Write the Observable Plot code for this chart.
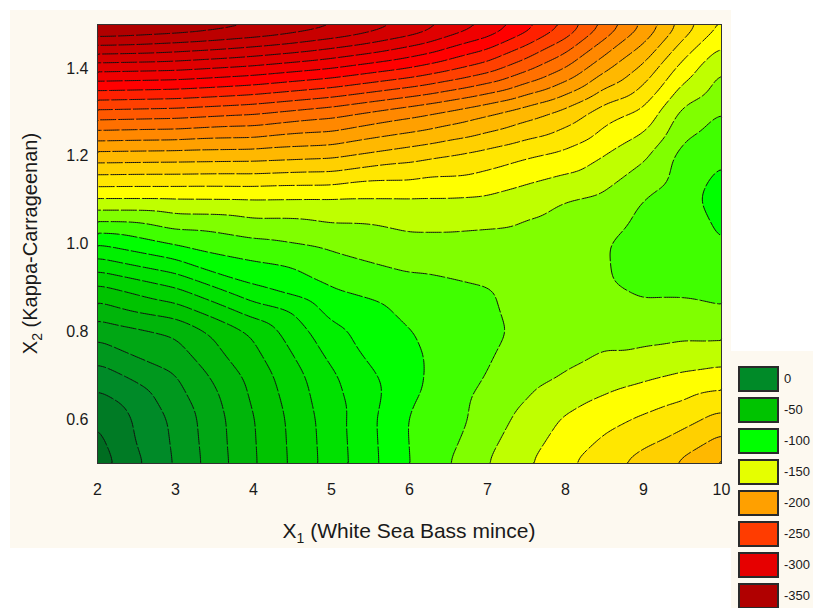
<!DOCTYPE html>
<html>
<head>
<meta charset="utf-8">
<script src="https://cdn.jsdelivr.net/npm/d3@7"></script>
<script src="https://cdn.jsdelivr.net/npm/@observablehq/plot@0.6"></script>
<style>
  html, body { margin: 0; padding: 0; background: #ffffff; }
  #page { position: relative; width: 813px; height: 608px; overflow: hidden; background: #ffffff;
          font-family: "Liberation Sans", Arial, sans-serif; color: #1a1a1a; }
  #panel { position: absolute; left: 10px; top: 10px; width: 721px; height: 538px; background: #fdf9f0; }
  #legend { position: absolute; left: 731px; top: 351px; width: 82px; height: 257px; background: #fdf9f0; }
  .sw { position: absolute; left: 7px; width: 41px; height: 26px; box-sizing: border-box; border: 2px solid #2a2a2a; }
  .lb { position: absolute; left: 53px; font-size: 13px; line-height: 26px; height: 26px; white-space: nowrap; color: #1a1a1a; }
  #chart { position: absolute; left: 0; top: 0; }
</style>
</head>
<body>
<div id="page">
  <div id="panel"></div>
  <div id="chart"></div>
  <div id="legend"></div>
</div>
<script>
// ---- axes ----
const x1Ticks = [2, 3, 4, 5, 6, 7, 8, 9, 10];
const x2Ticks = [0.6, 0.8, 1.0, 1.2, 1.4];

const x1Grid = [2, 3, 4, 5, 6, 6.5, 7, 7.5, 8, 8.5, 9, 9.5, 10];
const x2Grid = [0.5, 0.6, 0.7, 0.8, 0.9, 1.0, 1.1, 1.2, 1.3, 1.4, 1.5];
const zAtX2_05 = [32, -1, -36, -68, -100, -112, -125, -136, -148, -158.5, -168, -178, -192];
const zAtX2_06 = [25, -3, -37, -69, -101, -106, -119, -129, -139, -146, -152, -158, -167];
const zAtX2_07 = [6.5, -12, -42, -73, -97, -105, -113, -120, -125.5, -131, -135, -139, -142];
const zAtX2_08 = [-17, -27, -52, -84, -99.5, -104.5, -110, -115, -120, -121, -120, -121.5, -121];
const zAtX2_09 = [-47, -62, -86, -100, -108, -110, -112, -115, -117, -114, -110, -110, -107];
const zAtX2_10 = [-88, -101, -109, -115, -121, -121, -120, -119, -117, -113.5, -106, -106, -100];
const zAtX2_11 = [-136, -136, -136.5, -136, -136, -136, -135, -130, -125, -122, -112, -104, -95];
const zAtX2_12 = [-182, -181, -180, -177, -167, -162, -157, -151, -146, -137, -127, -108, -101];
const zAtX2_13 = [-234, -232, -227, -218, -205, -198, -190, -181, -171, -156, -147, -122, -112];
const zAtX2_14 = [-292, -290, -284, -275, -262, -253, -243, -228, -212, -190, -172, -145, -125];
const zAtX2_15 = [-355, -350, -342, -330, -313, -300, -288, -270, -250, -224, -200, -172, -149];
const zRows = [zAtX2_05, zAtX2_06, zAtX2_07, zAtX2_08, zAtX2_09, zAtX2_10,
               zAtX2_11, zAtX2_12, zAtX2_13, zAtX2_14, zAtX2_15];

// ---- legend ----
const legendValues = [0, -50, -100, -150, -200, -250, -300, -350];
const legendColors = ["#008a28", "#00c300", "#00ff00", "#e5ff00", "#ffa000", "#ff3c00", "#e60000", "#b00000"];

// ---- fill gradient stops ----
const colorStopValues = [-375, -350, -300, -275, -250, -200, -150, -100, -50, 0, 37.5];
const colorStopColors = ["#8c0000", "#b00000", "#e00000", "#ff0000", "#ff4000", "#ffa000", "#ffff00", "#00ff00", "#00c300", "#008a28", "#005e1e"];
const contourStep = 12.5;
const contourLevels = d3.range(-375, 40, contourStep);

const samples = [];
x2Grid.forEach((x2, i) => x1Grid.forEach((x1, j) => samples.push({x1, x2, z: zRows[i][j]})));

const contourOpts = {x: "x1", y: "x2", interpolate: "barycentric", thresholds: contourLevels, blur: 3};

const chart = Plot.plot({
  width: 813,
  height: 608,
  marginLeft: 97,
  marginRight: 92,
  marginTop: 24,
  marginBottom: 145,
  style: {background: "transparent", fontFamily: "'Liberation Sans', Arial, sans-serif", fontSize: "16px", color: "#1a1a1a"},
  x: {domain: [2, 10], ticks: x1Ticks, tickSize: 0, tickPadding: 20, label: null},
  y: {domain: [0.5, 1.5], ticks: x2Ticks, tickSize: 0, tickPadding: 9, tickFormat: ".1f", label: null},
  color: {type: "linear", domain: colorStopValues, range: colorStopColors},
  marks: [
    Plot.contour(samples, {...contourOpts, fill: "z", stroke: "none"}),
    Plot.contour(samples, {...contourOpts, value: "z", fill: "none", stroke: "#111", strokeWidth: 1, strokeDasharray: "16,2"}),
    Plot.frame({stroke: "#333", strokeWidth: 1})
  ]
});
document.getElementById("chart").appendChild(chart);

// axis titles with subscripts
const svg = d3.select(chart);
const xt = svg.append("text").attr("x", 409).attr("y", 538).attr("text-anchor", "middle")
  .attr("font-size", 21).attr("fill", "#1a1a1a");
xt.append("tspan").text("X");
xt.append("tspan").attr("font-size", 14).attr("dy", 5).text("1");
xt.append("tspan").attr("dy", -5).text(" (White Sea Bass mince)");

const yt = svg.append("text").attr("transform", "translate(37,243.5) rotate(-90)").attr("text-anchor", "middle")
  .attr("font-size", 20).attr("fill", "#1a1a1a");
yt.append("tspan").text("X");
yt.append("tspan").attr("font-size", 14).attr("dy", 5).text("2");
yt.append("tspan").attr("dy", -5).text(" (Kappa-Carrageenan)");

// legend
const lg = document.getElementById("legend");
legendValues.forEach((v, i) => {
  const top = 15 + i * 31;
  const s = document.createElement("div");
  s.className = "sw"; s.style.top = top + "px"; s.style.background = legendColors[i];
  lg.appendChild(s);
  const t = document.createElement("div");
  t.className = "lb"; t.style.top = top + "px"; t.textContent = String(v);
  lg.appendChild(t);
});
</script>
</body>
</html>
